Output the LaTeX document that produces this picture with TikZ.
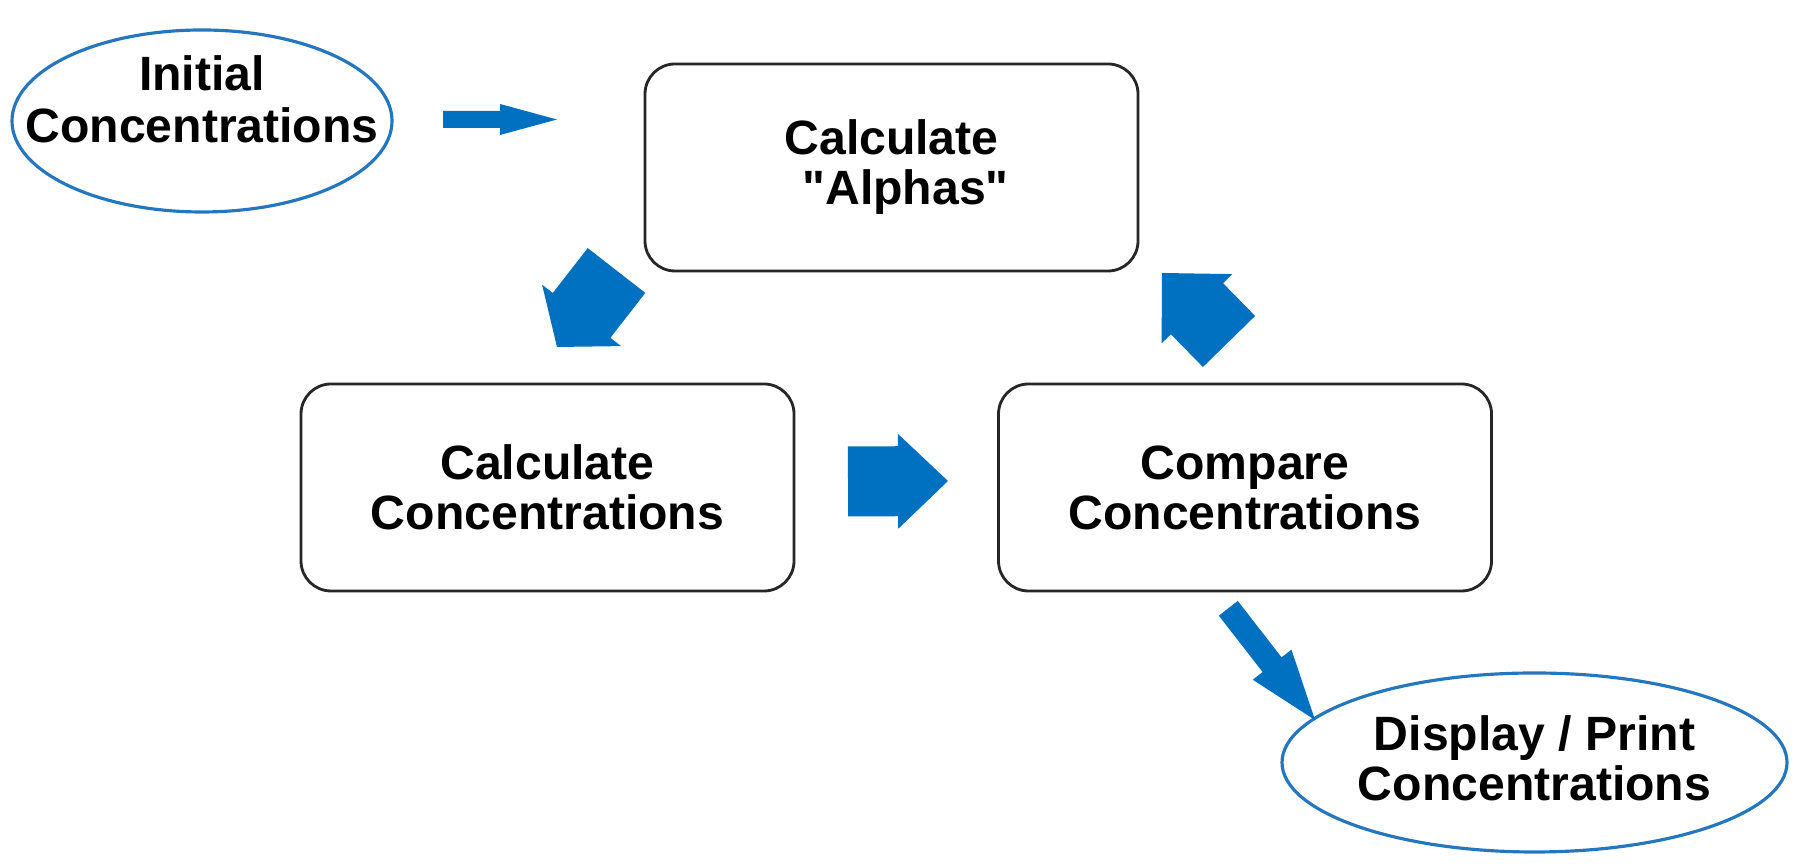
\documentclass[tikz,border=0pt]{standalone}
\usepackage{fontspec}
\setmainfont{Liberation Sans}[Ligatures=TeXOff]
\usepackage{xcolor}
\usepackage{tikz}
\usetikzlibrary{shapes.geometric, calc}

\definecolor{flowblue}{RGB}{0,112,192}
\definecolor{ringblue}{RGB}{36,118,190}

% block arrow: start, tip, half shaft width, head length, half head width
\newcommand{\fatarrow}[5]{%
  \coordinate (fa-base) at ($(#2)!#4!(#1)$);
  \fill[flowblue] ($(#1)!#3!90:(#2)$) -- ($(fa-base)!#3!90:(#2)$)
    -- ($(fa-base)!#5!90:(#2)$) -- (#2) -- ($(fa-base)!#5!-90:(#2)$)
    -- ($(fa-base)!#3!-90:(#2)$) -- ($(#1)!#3!-90:(#2)$) -- cycle;
}

\begin{document}
\begin{tikzpicture}[
    every node/.style={font=\bfseries\fontsize{13.7}{14.2}\selectfont, align=center},
    every label/.style={font=\bfseries\fontsize{13.7}{14.2}\selectfont, align=center},
    stepbox/.style={draw=black!85, line width=0.8pt, rounded corners=0.3cm,
      minimum width=4.93cm, minimum height=2.07cm},
    endpoint/.style={ellipse, draw=ringblue, line width=0.9pt, inner sep=0pt},
  ]
  \useasboundingbox (0,0) rectangle (17.99,8.64);

  % Start and end ovals (text as centre label so the ellipse keeps its size)
  \node[endpoint, minimum width=3.80cm, minimum height=1.82cm,
    label={[yshift=0.22cm, font=\bfseries\fontsize{13.7}{14.9}\selectfont]center:{Initial\\Concentrations}}]
    (init) at (2.02,7.43) {};
  \node[endpoint, minimum width=5.05cm, minimum height=1.79cm,
    label={[yshift=0.04cm]center:{Display / Print\\Concentrations}}]
    (disp) at (15.345,1.015) {};

  % Process steps
  \node[stepbox] (alpha) at (8.915,6.965) {Calculate\\\hspace*{0.28cm}"Alphas"};
  \node[stepbox] (calc) at (5.475,3.765) {Calculate\\Concentrations};
  \node[stepbox] (comp) at (12.45,3.765) {Compare\\Concentrations};

  % Arrow ends
  \coordinate (a1s) at (4.43,7.445);
  \coordinate (a1e) at (5.57,7.445);
  \coordinate (a2s) at (6.165,5.935);
  \coordinate (a2e) at (5.57,5.17);
  \coordinate (a3s) at (8.48,3.825);
  \coordinate (a3e) at (9.48,3.83);
  \coordinate (a4s) at (12.29,5.225);
  \coordinate (a4e) at (11.62,5.91);
  \coordinate (a5s) at (12.283,2.557);
  \coordinate (a5e) at (13.15,1.44);

  % Block arrows
  \fatarrow{a1s}{a1e}{0.085cm}{0.57cm}{0.155cm}
  \fatarrow{a2s}{a2e}{0.365cm}{0.40cm}{0.50cm}
  \fatarrow{a3s}{a3e}{0.35cm}{0.50cm}{0.475cm}
  \fatarrow{a4s}{a4e}{0.365cm}{0.50cm}{0.495cm}
  \fatarrow{a5s}{a5e}{0.12cm}{0.70cm}{0.245cm}
\end{tikzpicture}
\end{document}
